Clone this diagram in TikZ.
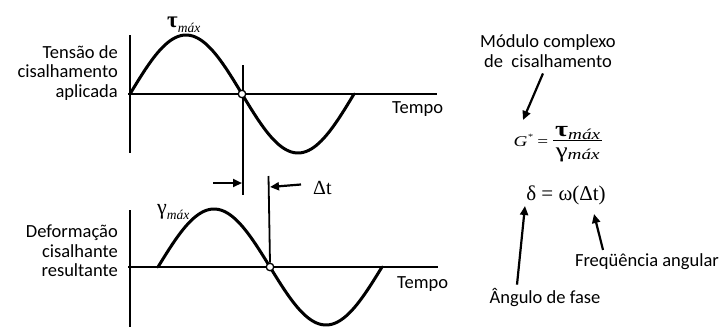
\documentclass[tikz,border=0pt]{standalone}
\usepackage{fontspec}
\usepackage{graphicx}
\setmainfont{Carlito}
\newfontfamily\tms{Liberation Serif}
\usetikzlibrary{arrows.meta}
\newcommand\msub[1]{\raisebox{-0.25em}{\fontsize{#1}{#1}\selectfont\itshape máx}}
\begin{document}
\begin{tikzpicture}[x=1pt,y=-1pt,
  lbl/.style={font=\fontsize{18.5}{19.5}\selectfont, inner sep=0pt},
  greek/.style={font=\tms\fontsize{20}{20}\selectfont, inner sep=0pt},
  axis/.style={line width=1.8pt},
  wave/.style={line width=3pt, line cap=round},
  marker/.style={line width=1.8pt},
  arr/.style={line width=2.2pt, -{Triangle[length=9pt,width=8pt]}},
  dot/.style={circle, draw, line width=1.3pt, fill=white, minimum size=7.5pt, inner sep=0pt}]
\useasboundingbox (0,0) rectangle (724,327);

% ---------- top graph ----------
\draw[axis] (130,35) -- (130,153);
\draw[axis] (128,94) -- (437,94);
\draw[wave] plot[domain=130:354, samples=90] (\x, {94-59*sin((\x-130)/112*180)});
\draw[marker] (243,65) -- (243,195);
\node[dot] (c1) at (242,94) {};
\node[lbl, align=right, anchor=east] (tlab) at (118,73) {Tensão de\\cisalhamento\\aplicada};
\node[lbl, anchor=base west] (tempo1) at (392,113) {Tempo};
\node[greek, anchor=base west] (tau) at (167,27) {{\fontsize{23}{23}\selectfont\bfseries τ}\msub{13.5}};

% ---------- delta t ----------
\coordinate (a1) at (213,183);
\coordinate (a1t) at (242,183);
\draw[arr] (a1) -- (a1t);
\node[greek, font=\tms\fontsize{20}{20}\selectfont, anchor=base west] (dt) at (313,194) {Δt};
\coordinate (a2t) at (270,187);
\draw[arr] ([xshift=-12pt,yshift=3pt]dt.west) -- (a2t);

% ---------- bottom graph ----------
\draw[axis] (130,210) -- (130,327);
\draw[axis] (128,267) -- (438,267);
\draw[wave] plot[domain=158:382, samples=90] (\x, {267-58*sin((\x-158)/112*180)});
\node[dot] (c2) at (270,267) {};
\draw[marker] (268.5,176) -- (c2.north);
\node[lbl, align=right, anchor=east] (dlab) at (118,251) {Deformação\\cisalhante\\resultante};
\node[lbl, anchor=base west] (tempo2) at (397,288) {Tempo};
\node[greek, anchor=base west] (gam) at (157,214) {{\fontsize{22}{22}\selectfont γ}\msub{13.5}};

% ---------- right side ----------
\node[lbl, align=center] (mod) at (548,51) {Módulo complexo\\de\ \ cisalhamento};
\node[inner sep=0pt, font=\tms] (gform) at (558,144)
  {\scalebox{1.28}[1]{{\fontsize{15}{15}\selectfont\itshape G\raisebox{0.45em}{\fontsize{8}{8}\selectfont *}\upshape\ = }%
   \renewcommand\arraystretch{1.0}\setlength\arrayrulewidth{0.8pt}%
   $\vcenter{\hbox{\begin{tabular}{@{\,}c@{\,}}
     {\fontsize{22}{22}\selectfont\bfseries τ}\msub{15}\\[0pt]\hline
     \rule{0pt}{16pt}{\fontsize{21}{21}\selectfont γ}\msub{15}
   \end{tabular}}}$}};
\node[inner sep=0pt, font=\tms\fontsize{21}{21}\selectfont, anchor=base] (delta) at (566,200) {δ = ω(Δt)};
\node[lbl, anchor=base] (freq) at (647,266) {Freqüência angular};
\node[lbl, anchor=base] (ang) at (545,303) {Ângulo de fase};

\coordinate (gtip) at (523,120);
\coordinate (dtip) at (525,206);
\coordinate (wtip) at (594,214);
\draw[arr] ([xshift=-5pt,yshift=-6pt]mod.south) -- (gtip);
\draw[arr] ([xshift=-28pt,yshift=3pt]ang.north) -- (dtip);
\draw[arr] ([xshift=-44pt,yshift=3pt]freq.north) -- (wtip);
\end{tikzpicture}
\end{document}
